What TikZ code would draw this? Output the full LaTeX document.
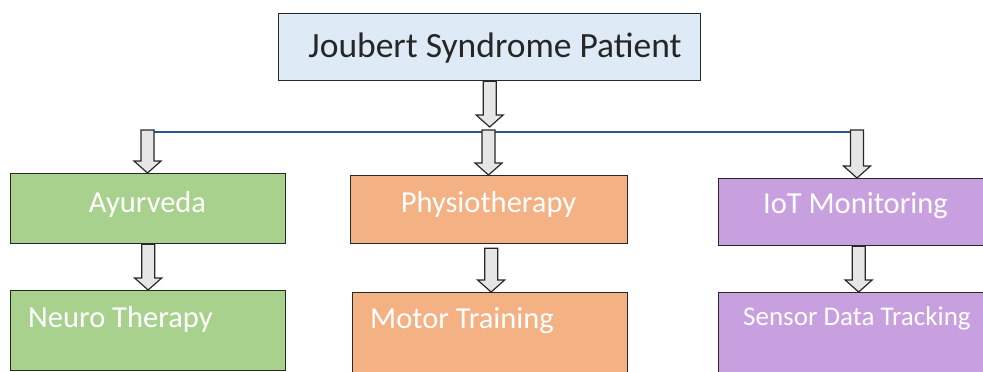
\documentclass[tikz,border=0pt]{standalone}
\usepackage{fontspec}
\setmainfont{Carlito}
\usetikzlibrary{calc}
\definecolor{titlefill}{RGB}{222,235,247}
\definecolor{greenfill}{RGB}{169,209,142}
\definecolor{orangefill}{RGB}{244,177,131}
\definecolor{purplefill}{RGB}{200,160,224}
\definecolor{busblue}{RGB}{47,85,143}
\definecolor{edge}{RGB}{40,40,40}
\definecolor{arrowfill}{RGB}{230,230,230}
\definecolor{titletext}{RGB}{38,38,38}
\begin{document}
\begin{tikzpicture}[x=1pt,y=-1pt,
  box/.style={draw=edge, line width=1.3pt, inner sep=0pt, anchor=north west},
  lbl/.style={inner sep=0pt, text=white},
  bus/.style={draw=busblue, line width=2.8pt},
  blockarrow/.style={draw=edge, fill=arrowfill, line width=1.2pt, line join=miter,
    to path={let \p1=(\tikztostart), \p2=(\tikztotarget) in
      (\x1-6.5pt,\y1) -- (\x1-6.5pt,\y2+12pt) -- (\x1-13.5pt,\y2+12pt) -- (\x1,\y2)
      -- (\x1+13.5pt,\y2+12pt) -- (\x1+6.5pt,\y2+12pt) -- (\x1+6.5pt,\y1) -- cycle}}]
\useasboundingbox (0,0) rectangle (983,372);
\clip (0,0) rectangle (983,372);

% boxes
\node[box, fill=titlefill, minimum width=422pt, minimum height=67pt] (title) at (278,13) {};
\node[box, fill=greenfill,  minimum width=275pt, minimum height=70pt] (ayur)   at (10,173) {};
\node[box, fill=orangefill, minimum width=277pt, minimum height=68pt] (physio) at (350,175) {};
\node[box, fill=purplefill, minimum width=278pt, minimum height=67pt] (iot)    at (718,178) {};
\node[box, fill=greenfill,  minimum width=275pt, minimum height=80pt] (neuro)  at (10,290) {};
\node[box, fill=orangefill, minimum width=275pt, minimum height=90pt] (motor)  at (352,292) {};
\node[box, fill=purplefill, minimum width=278pt, minimum height=90pt] (sensor) at (718,292) {};

% texts
\node[inner sep=0pt, text=titletext, anchor=base, font=\fontsize{35.5}{42}\selectfont] (titlet) at (495,57) {Joubert Syndrome Patient};
\node[lbl, anchor=base, font=\fontsize{30.5}{36}\selectfont] (ayurt) at (147.5,212) {Ayurveda};
\node[lbl, anchor=base, font=\fontsize{30.5}{36}\selectfont] (physiot) at (488.5,212) {Physiotherapy};
\node[lbl, anchor=base, font=\fontsize{30.5}{36}\selectfont] (iott) at (855.5,213) {IoT Monitoring};
\node[lbl, anchor=base west, font=\fontsize{30.5}{36}\selectfont] (neurot) at (28,327) {Neuro Therapy};
\node[lbl, anchor=base west, font=\fontsize{30.5}{36}\selectfont] (motort) at (370,328) {Motor Training};
\node[lbl, anchor=base west, font=\fontsize{27}{32}\selectfont] (sensort) at (743,325) {Sensor Data Tracking};

% bus line and its joints
\coordinate (busT) at (489,127);
\coordinate (busA) at (147.5,132);
\coordinate (busP) at (488.5,132);
\coordinate (busI) at (857,132);
\draw[bus] (busA) -- (busI);

% block arrows
\draw[blockarrow] (title.south) to (busT);
\draw[blockarrow] ([yshift=2pt]busA) to (ayur.north);
\draw[blockarrow] ([yshift=2pt]busP) to (physio.north);
\draw[blockarrow] ([yshift=2pt]busI) to ([xshift=-1pt]iot.north);
\draw[blockarrow] (ayur.south) to (neuro.north);
\draw[blockarrow] ([xshift=2pt,yshift=-4pt]physio.south) to ([xshift=2pt]motor.north);
\draw[blockarrow] ([xshift=1pt]iot.south) to ([xshift=1pt]sensor.north);
\end{tikzpicture}
\end{document}
